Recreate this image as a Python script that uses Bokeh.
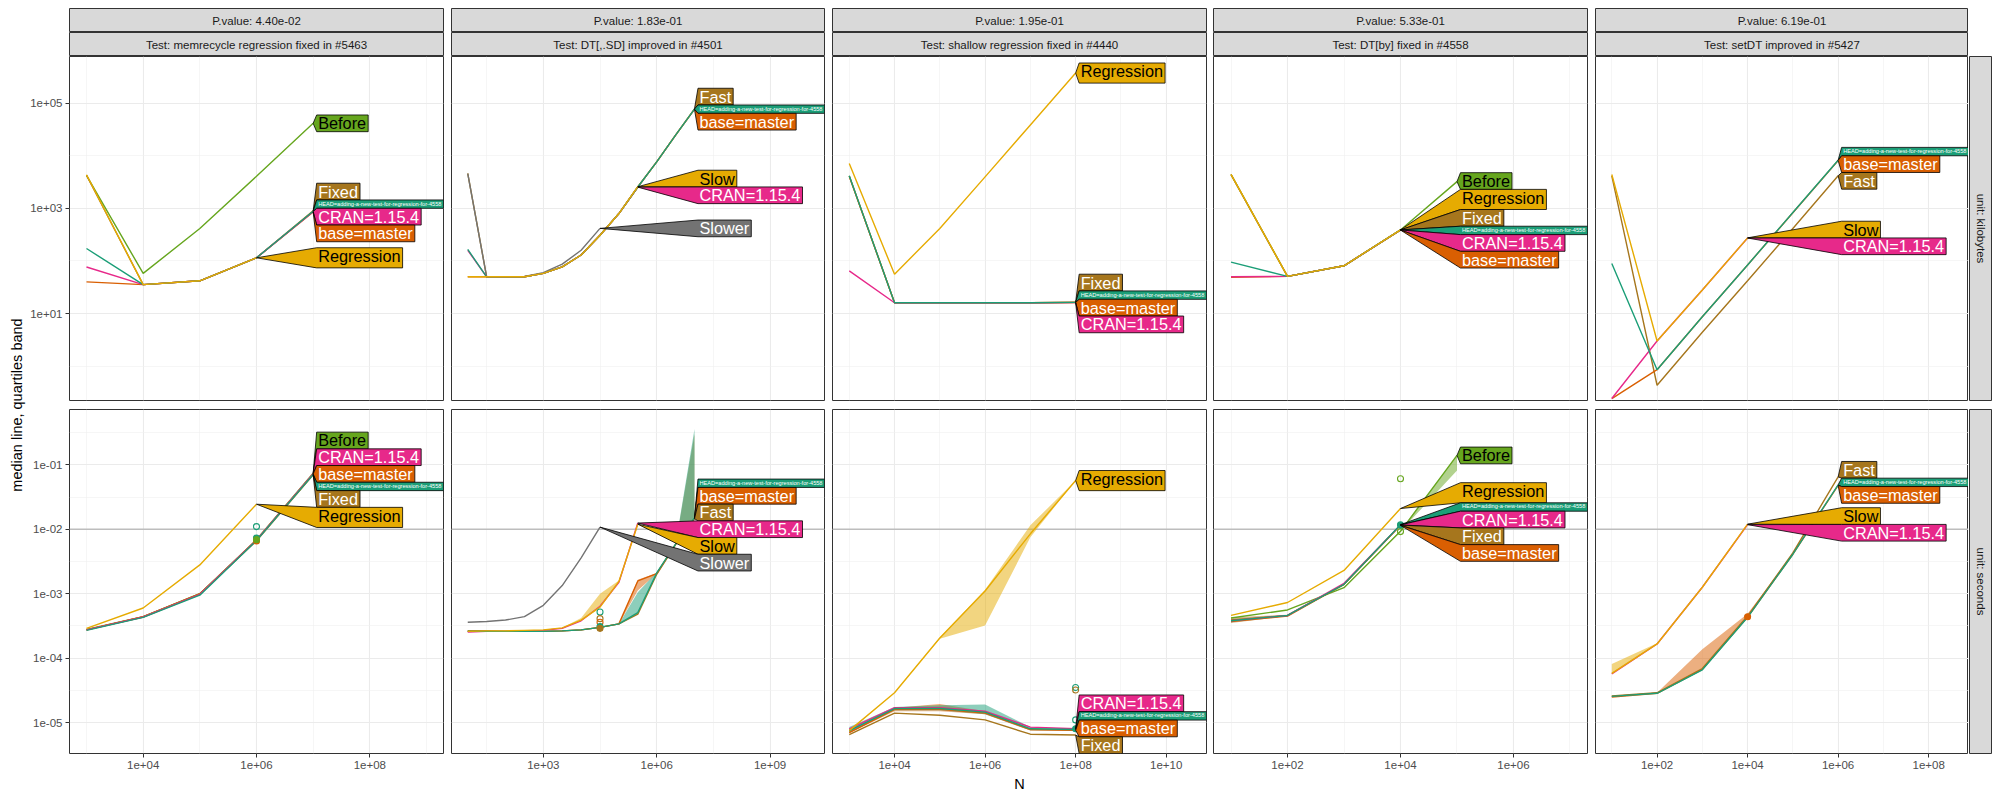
import math
from bokeh.plotting import figure
from bokeh.layouts import row, column, Spacer
from bokeh.models import Range1d, FixedTicker, CustomJSTickFormatter, Span
from bokeh.embed import file_html
from bokeh.resources import INLINE
from bokeh.core.properties import value

FONT = "Liberation Sans"

# ---------------- data ----------------
strip_pvalue = ["P.value: 4.40e-02", "P.value: 1.83e-01", "P.value: 1.95e-01",
                "P.value: 5.33e-01", "P.value: 6.19e-01"]
strip_test = ["Test: memrecycle regression fixed in #5463", "Test: DT[,.SD] improved in #4501",
              "Test: shallow regression fixed in #4440", "Test: DT[by] fixed in #4558",
              "Test: setDT improved in #5427"]
unit_labels = ["unit: kilobytes", "unit: seconds"]
y_title = "median line, quartiles band"
x_title = "N"

# panel 1 : memrecycle
p1_N = [1e3, 1e4, 1e5, 1e6, 1e7]
p1_kilobytes = {
    "Before": [4270, 58, 416, 4100, 41900],
    "Regression": [4400, 35.5, 42, 115],
    "Fixed": [4300, 35.5, 42, 115, 900],
    "HEAD": [173, 35.5, 42, 115, 885],
    "CRAN": [77, 35.5, 42, 115, 870],
    "base": [40, 35.5, 42, 115, 860],
}
p1_seconds = {
    "Before": [2.8e-4, 4.4e-4, 1.0e-3, 6.9e-3, 0.074],
    "Regression": [2.9e-4, 6.0e-4, 2.8e-3, 0.0245],
    "Fixed": [2.75e-4, 4.35e-4, 1.0e-3, 6.6e-3, 0.070],
    "HEAD": [2.7e-4, 4.3e-4, 0.95e-3, 6.7e-3, 0.071],
    "CRAN": [2.75e-4, 4.35e-4, 0.98e-3, 6.8e-3, 0.073],
    "base": [2.75e-4, 4.4e-4, 0.98e-3, 6.8e-3, 0.072],
}
p1_bands = {}
p1_points = [(1e6, 0.011, "HEAD", False), (1e6, 7.3e-3, "HEAD", True),
             (1e6, 6.6e-3, "base", True), (1e6, 6.9e-3, "Before", True)]

# panel 2 : DT[,.SD]
p2_N = [10, 31.6, 100, 316, 1000, 3162, 1e4, 31623, 1e5, 316228, 1e6, 3162278, 1e7]
p2_kilobytes = {
    "Fast": [4650, 50, 50, 50, 58, 77, 130, 310, 800, 2570, 7700, 25000, 79000],
    "HEAD": [166, 50, 50, 50, 58, 77, 130, 310, 800, 2570, 7700, 25000, 78000],
    "base": [50, 50, 50, 50, 58, 77, 130, 310, 800, 2570, 7700, 25000, 77000],
    "Slow": [50, 50, 50, 50, 58, 77, 130, 310, 800, 2600],
    "CRAN": [160, 50, 50, 50, 58, 77, 130, 310, 800, 2550],
    "Slower": [4600, 50, 50, 51, 60, 87, 160, 418],
}
p2_seconds = {
    "Slower": [3.6e-4, 3.7e-4, 3.9e-4, 4.4e-4, 6.6e-4, 1.34e-3, 3.6e-3, 0.0108],
    "CRAN": [2.55e-4, 2.6e-4, 2.6e-4, 2.65e-4, 2.7e-4, 2.9e-4, 3.8e-4, 6.4e-4, 1.5e-3, 0.0125],
    "Slow": [2.6e-4, 2.65e-4, 2.65e-4, 2.7e-4, 2.75e-4, 2.95e-4, 3.9e-4, 6.2e-4, 1.55e-3, 0.0120],
    "HEAD": [2.6e-4, 2.6e-4, 2.6e-4, 2.6e-4, 2.6e-4, 2.65e-4, 2.75e-4, 3.0e-4, 3.4e-4, 5.1e-4, 2.1e-3, 5.9e-3, 0.0150],
    "base": [2.6e-4, 2.6e-4, 2.6e-4, 2.6e-4, 2.6e-4, 2.65e-4, 2.75e-4, 3.0e-4, 3.4e-4, 1.58e-3, 2.05e-3, 5.9e-3, 0.0148],
    "Fast": [2.65e-4, 2.65e-4, 2.6e-4, 2.6e-4, 2.6e-4, 2.65e-4, 2.75e-4, 3.0e-4, 3.4e-4, 4.8e-4, 2.0e-3, 5.8e-3, 0.0146],
}
p2_bands = {
    "Slow": ([2.6e-4, 2.65e-4, 2.65e-4, 2.7e-4, 2.75e-4, 2.95e-4, 3.9e-4, 6.2e-4, 1.55e-3, 0.0120],
             [2.6e-4, 2.65e-4, 2.65e-4, 2.7e-4, 2.75e-4, 2.95e-4, 4.2e-4, 1.0e-3, 1.6e-3, 0.0120]),
    "HEAD": ([2.6e-4, 2.6e-4, 2.6e-4, 2.6e-4, 2.6e-4, 2.65e-4, 2.75e-4, 3.0e-4, 3.4e-4, 5.1e-4, 2.0e-3, 5.8e-3, 0.0145],
             [2.7e-4, 2.7e-4, 2.6e-4, 2.6e-4, 2.6e-4, 2.65e-4, 2.75e-4, 3.0e-4, 3.4e-4, 1.05e-3, 2.15e-3, 5.9e-3, 0.36]),
    "Fast": ([2.6e-4, 2.6e-4, 2.6e-4, 2.6e-4, 2.6e-4, 2.65e-4, 2.75e-4, 3.0e-4, 3.4e-4, 4.8e-4, 2.0e-3, 5.8e-3, 0.0146],
             [2.65e-4, 2.65e-4, 2.6e-4, 2.6e-4, 2.6e-4, 2.65e-4, 2.75e-4, 3.0e-4, 3.4e-4, 5.0e-4, 2.0e-3, 5.8e-3, 0.30]),
    "base": ([2.6e-4, 2.6e-4, 2.6e-4, 2.6e-4, 2.6e-4, 2.65e-4, 2.75e-4, 3.0e-4, 3.4e-4, 1.12e-3, 2.05e-3, 5.9e-3, 0.0148],
             [2.6e-4, 2.6e-4, 2.6e-4, 2.6e-4, 2.6e-4, 2.65e-4, 2.75e-4, 3.0e-4, 3.4e-4, 1.65e-3, 2.1e-3, 5.9e-3, 0.0148]),
}
p2_points = [(31623, 5.2e-4, "HEAD", False), (31623, 4.1e-4, "Fast", False),
             (31623, 3.6e-4, "base", False), (31623, 3.1e-4, "HEAD", True),
             (31623, 2.9e-4, "Fast", True)]

# panel 3 : shallow
p3_N = [1e3, 1e4, 1e5, 1e6, 1e7, 1e8]
p3_kilobytes = {
    "Regression": [7200, 56, 417, 4000, 39000, 380000],
    "Fixed": [4150, 16, 16, 16, 16, 16.4],
    "HEAD": [4200, 16, 16, 16, 16, 16.3],
    "base": [4100, 16, 16, 16, 16, 16.2],
    "CRAN": [65, 16, 16, 16, 16, 16.1],
}
p3_seconds = {
    "Regression": [7.5e-6, 2.9e-5, 2.05e-4, 1.1e-3, 8.5e-3, 0.057],
    "CRAN": [8.0e-6, 1.7e-5, 1.7e-5, 1.5e-5, 8.5e-6, 8.0e-6],
    "HEAD": [7.5e-6, 1.65e-5, 1.65e-5, 1.45e-5, 8.0e-6, 7.8e-6],
    "base": [7.0e-6, 1.6e-5, 1.6e-5, 1.4e-5, 7.8e-6, 7.6e-6],
    "Fixed": [6.5e-6, 1.4e-5, 1.3e-5, 1.1e-5, 6.6e-6, 6.4e-6],
}
p3_bands = {
    "Regression": ([7.5e-6, 2.9e-5, 2.0e-4, 3.2e-4, 7.5e-3, 0.057],
                   [7.5e-6, 2.9e-5, 2.1e-4, 1.15e-3, 0.0115, 0.057]),
    "HEAD": ([7.0e-6, 1.55e-5, 1.55e-5, 1.35e-5, 7.6e-6, 7.5e-6],
             [8.5e-6, 1.75e-5, 1.85e-5, 1.9e-5, 8.5e-6, 8.0e-6]),
    "base": ([6.8e-6, 1.5e-5, 1.5e-5, 1.35e-5, 7.5e-6, 7.4e-6],
             [7.5e-6, 1.7e-5, 1.95e-5, 1.5e-5, 8.0e-6, 7.8e-6]),
}
p3_points = [(1e8, 3.5e-5, "HEAD", False), (1e8, 3.2e-5, "Fixed", False),
             (1e8, 1.1e-5, "HEAD", False), (1e8, 8.0e-6, "HEAD", True)]

# panel 4 : DT[by]
p4_N = [10, 100, 1000, 1e4, 1e5]
p4_kilobytes = {
    "Before": [4450, 51, 81, 390, 3250],
    "Regression": [4450, 51, 81, 392],
    "Fixed": [4400, 51, 81, 391],
    "HEAD": [95, 51, 81, 390.5],
    "CRAN": [50, 51, 81, 389],
    "base": [49, 51, 81, 388],
}
p4_seconds = {
    "Before": [4.2e-4, 5.6e-4, 1.24e-3, 9.3e-3, 0.14],
    "Regression": [4.6e-4, 7.3e-4, 2.3e-3, 0.021],
    "HEAD": [3.8e-4, 4.6e-4, 1.4e-3, 0.0118],
    "CRAN": [3.8e-4, 4.6e-4, 1.45e-3, 0.0117],
    "Fixed": [3.9e-4, 4.6e-4, 1.4e-3, 0.0116],
    "base": [3.7e-4, 4.5e-4, 1.4e-3, 0.0115],
}
p4_bands = {
    "Before": ([4.2e-4, 5.6e-4, 1.24e-3, 9.3e-3, 0.082], [4.2e-4, 5.6e-4, 1.24e-3, 9.6e-3, 0.14]),
    "Fixed": ([3.5e-4, 4.5e-4, 1.4e-3, 0.0116], [4.3e-4, 4.7e-4, 1.4e-3, 0.0116]),
}
p4_points = [(1e4, 0.061, "Before", False), (1e4, 9.2e-3, "Before", False),
             (1e4, 0.0117, "HEAD", True)]

# panel 5 : setDT
p5_N = [10, 100, 1000, 1e4, 1e5, 1e6]
p5_kilobytes = {
    "Slow": [4450, 3.0, 28, 276],
    "CRAN": [0.24, 3.0, 28, 274],
    "Fast": [4200, 0.43, 4.4, 42, 415, 4200],
    "HEAD": [90, 0.85, 8.7, 84, 840, 8300],
    "base": [0.24, 0.85, 8.7, 84, 830, 8200],
}
p5_seconds = {
    "Slow": [5.8e-5, 1.66e-4, 1.26e-3, 0.0120],
    "CRAN": [5.7e-5, 1.66e-4, 1.26e-3, 0.0118],
    "Fast": [2.6e-5, 2.9e-5, 6.9e-5, 4.5e-4, 4.3e-3, 0.065],
    "HEAD": [2.55e-5, 2.85e-5, 6.6e-5, 4.3e-4, 4.1e-3, 0.049],
    "base": [2.5e-5, 2.85e-5, 6.7e-5, 4.35e-4, 4.1e-3, 0.048],
}
p5_bands = {
    "Slow": ([5.8e-5, 1.66e-4, 1.26e-3, 0.0120], [8.1e-5, 1.7e-4, 1.26e-3, 0.0120]),
    "base": ([2.5e-5, 2.85e-5, 6.7e-5, 4.35e-4, 4.1e-3, 0.048],
             [2.6e-5, 2.9e-5, 1.38e-4, 4.9e-4, 4.1e-3, 0.048]),
}
p5_points = [(1e4, 4.4e-4, "base", True)]

seconds_reference = 0.01

version_colors = {"Before": "#66A61E", "Regression": "#E6AB02", "Slow": "#E6AB02",
                  "Fixed": "#A6761D", "Fast": "#A6761D", "HEAD": "#1B9E77",
                  "base": "#D95F02", "CRAN": "#E7298A", "Slower": "#737373"}
version_labels = {"Before": "Before", "Regression": "Regression", "Fixed": "Fixed",
                  "HEAD": "HEAD=adding-a-new-test-for-regression-for-4558",
                  "CRAN": "CRAN=1.15.4", "base": "base=master", "Slow": "Slow",
                  "Slower": "Slower", "Fast": "Fast"}
dark_text = {"Before", "Regression", "Slow"}
draw_order = ["Before", "Fixed", "Fast", "base", "CRAN", "HEAD", "Slower", "Regression", "Slow"]

panels = [
    dict(N=p1_N, rows=[p1_kilobytes, p1_seconds], bands=p1_bands, pts=p1_points),
    dict(N=p2_N, rows=[p2_kilobytes, p2_seconds], bands=p2_bands, pts=p2_points),
    dict(N=p3_N, rows=[p3_kilobytes, p3_seconds], bands=p3_bands, pts=p3_points),
    dict(N=p4_N, rows=[p4_kilobytes, p4_seconds], bands=p4_bands, pts=p4_points),
    dict(N=p5_N, rows=[p5_kilobytes, p5_seconds], bands=p5_bands, pts=p5_points),
]

# ---------------- layout / style ----------------
x_log_ranges = [(2.70, 9.30), (0.57, 10.44), (2.63, 10.89), (0.69, 7.31), (0.64, 8.88)]
y_log_ranges = [(-0.657, 5.895), (-5.48, -0.141)]
x_major = [[1e4, 1e6, 1e8], [1e3, 1e6, 1e9], [1e4, 1e6, 1e8, 1e10], [1e2, 1e4, 1e6], [1e2, 1e4, 1e6, 1e8]]
x_minor = [[1e3, 1e5, 1e7, 1e9], [10 ** 1.5, 10 ** 4.5, 10 ** 7.5], [1e3, 1e5, 1e7, 1e9],
           [1e1, 1e3, 1e5, 1e7], [1e1, 1e3, 1e5, 1e7]]
y_major = [[1e1, 1e3, 1e5], [1e-5, 1e-4, 1e-3, 1e-2, 1e-1]]
y_minor = [[1e0, 1e2, 1e4], [10 ** -4.5, 10 ** -3.5, 10 ** -2.5, 10 ** -1.5, 10 ** -0.5]]

YLAB_W = 26
frame_w = [374, 373, 374, 374, 373]
frame_h = 344
lb = [69 - YLAB_W, 4, 4, 3, 4]
rb = [4, 4, 4, 4, 0]

AFM = {'A': 667, 'B': 667, 'C': 722, 'D': 722, 'E': 667, 'F': 611, 'H': 722, 'N': 722,
       'R': 722, 'S': 667, 'a': 556, 'b': 556, 'c': 500, 'd': 556, 'e': 556, 'f': 278,
       'g': 556, 'i': 222, 'l': 222, 'm': 833, 'n': 556, 'o': 556, 'r': 333, 's': 500,
       't': 278, 'w': 722, 'x': 500, '.': 278, '=': 584, '-': 333, ' ': 278}


def text_em(s):
    return sum(AFM.get(c, 556) for c in s) / 1000.0


fmt_code = """
const e = Math.round(Math.log10(tick));
const a = Math.abs(e);
return "1e" + (e < 0 ? "-" : "+") + (a < 10 ? "0" + a : String(a));
"""


def place_cluster(c, H):
    cum = 0.0
    offs = []
    for e in c:
        offs.append(cum + e["bh"] / 2.0)
        cum += e["bh"]
    top = sum(e["t"] - o for e, o in zip(c, offs)) / len(c)
    top = max(0.0, min(H - cum, top))
    cum = 0.0
    for e in c:
        e["bt"] = top + cum
        cum += e["bh"]
        e["bb"] = e["bt"] + e["bh"]


def stack_labels(entries, H):
    entries.sort(key=lambda e: e["t"])
    clusters = []
    for e in entries:
        clusters.append([e])
        while True:
            place_cluster(clusters[-1], H)
            if len(clusters) > 1:
                prev = clusters[-2]
                if prev[-1]["bb"] > clusters[-1][0]["bt"] + 1e-9:
                    clusters[-2] = prev + clusters[-1]
                    clusters.pop()
                    continue
            break


def make_panel(ci, ri):
    pan = panels[ci]
    N = pan["N"]
    data = pan["rows"][ri]
    xlo, xhi = x_log_ranges[ci]
    ylo, yhi = y_log_ranges[ri]
    W = frame_w[ci]
    H = frame_h
    if ri == 0:
        mt, mb = 0, 4
    else:
        mt, mb = 5, 47
    p = figure(width=lb[ci] + W + rb[ci], height=mt + H + mb,
               x_axis_type="log", y_axis_type="log",
               x_range=Range1d(10 ** xlo, 10 ** xhi), y_range=Range1d(10 ** ylo, 10 ** yhi),
               x_axis_location=("below" if ri == 1 else None),
               y_axis_location=("left" if ci == 0 else None),
               toolbar_location=None, output_backend="svg",
               min_border=0, min_border_left=lb[ci], min_border_right=rb[ci],
               min_border_top=mt, min_border_bottom=mb)
    p.background_fill_color = "white"
    p.border_fill_color = "white"
    p.outline_line_color = "#333333"
    p.outline_line_width = 1
    xt = FixedTicker(ticks=x_major[ci], minor_ticks=x_minor[ci])
    yt = FixedTicker(ticks=y_major[ri], minor_ticks=y_minor[ri])
    for g, t in ((p.xgrid, xt), (p.ygrid, yt)):
        g.ticker = t
        g.grid_line_color = "#EBEBEB"
        g.grid_line_width = 1.1
        g.minor_grid_line_color = "#F0F0F0"
        g.minor_grid_line_width = 0.6
    for ax, t in ((p.xaxis, xt), (p.yaxis, yt)):
        if len(ax) == 0:
            continue
        ax.ticker = t
        ax.formatter = CustomJSTickFormatter(code=fmt_code)
        ax.axis_line_color = None
        ax.major_tick_line_color = "#333333"
        ax.major_tick_out = 4
        ax.major_tick_in = 0
        ax.minor_tick_line_color = None
        ax.major_label_text_color = "#4D4D4D"
        ax.major_label_text_font_size = "11.5px"
        ax.major_label_text_font = FONT
        ax.major_label_standoff = 3
    if ri == 1 and ci == 2:
        p.xaxis.axis_label = x_title
        p.xaxis.axis_label_text_font_size = "14.5px"
        p.xaxis.axis_label_text_font_style = "normal"
        p.xaxis.axis_label_text_font = FONT
        p.xaxis.axis_label_text_color = "black"
        p.xaxis.axis_label_standoff = 4

    if ri == 1:
        sp = Span(location=seconds_reference, dimension="width", line_color="#BDBDBD",
                  line_width=1.5, level="underlay")
        p.add_layout(sp)

    # bands
    if ri == 1:
        for ver in draw_order:
            if ver in pan["bands"]:
                q25, q75 = pan["bands"][ver]
                p.varea(x=N[:len(q25)], y1=q25, y2=q75, fill_color=version_colors[ver],
                        fill_alpha=0.5)
    # lines
    for ver in draw_order:
        if ver in data:
            vals = data[ver]
            p.line(N[:len(vals)], vals, line_color=version_colors[ver], line_width=1.4)
    # points
    if ri == 1:
        for (nx, vy, ver, filled) in pan["pts"]:
            p.scatter([nx], [vy], marker="circle", size=6, line_color=version_colors[ver],
                      line_width=1.1, fill_color=(version_colors[ver] if filled else None))

    # direct labels
    def px(lx):
        return (lx - xlo) / (xhi - xlo) * W

    def py(ly):
        return (yhi - ly) / (yhi - ylo) * H

    def X(v):
        return 10 ** (xlo + v / W * (xhi - xlo))

    def Y(v):
        return 10 ** (yhi - v / H * (yhi - ylo))

    xmax_log = math.log10(max(N[len(v) - 1] for v in data.values()))
    bl = px(xmax_log) + 3.5
    entries = []
    for ver, vals in data.items():
        txt = version_labels[ver]
        em = text_em(txt)
        if ver == "HEAD":
            fs = (W - bl - 3.5) / em
        else:
            fs = 16.3
        desc = 0.21 if any(c in "gjpqy" for c in txt) else 0.0
        pad = 2.2 + 0.17 * fs
        bh = (0.72 + desc) * fs + pad
        bw = em * fs + 3.5
        lastN = N[len(vals) - 1]
        entries.append(dict(ver=ver, txt=txt, fs=fs, desc=desc, pad=pad, bh=bh, bw=bw,
                            tipx=px(math.log10(lastN)), t=py(math.log10(vals[-1]))))
    stack_labels(entries, H)
    for e in entries:
        col = version_colors[e["ver"]]
        xs = [X(e["tipx"]), X(bl), X(bl + e["bw"]), X(bl + e["bw"]), X(bl)]
        ys = [Y(e["t"]), Y(e["bt"]), Y(e["bt"]), Y(e["bb"]), Y(e["bb"])]
        p.patch(xs, ys, fill_color=col, line_color="black", line_width=0.8)
        cap_center = e["bt"] + e["pad"] / 2.0 + 0.36 * e["fs"]
        p.text(x=[X(bl + 1.5)], y=[Y(cap_center)],
               text=[e["txt"]], text_align="left", text_baseline="middle",
               text_font_size="%.2fpx" % e["fs"], text_font=value(FONT),
               text_color=("black" if e["ver"] in dark_text else "white"))
    return p


def make_strip(ci, text, top_border):
    p = figure(width=lb[ci] + frame_w[ci] + rb[ci], height=24 + top_border,
               x_range=Range1d(0, 1), y_range=Range1d(0, 1),
               x_axis_location=None, y_axis_location=None,
               toolbar_location=None, output_backend="svg",
               min_border=0, min_border_left=lb[ci], min_border_right=rb[ci],
               min_border_top=top_border, min_border_bottom=0)
    p.grid.visible = False
    p.background_fill_color = "#D9D9D9"
    p.border_fill_color = "white"
    p.outline_line_color = "#333333"
    p.outline_line_width = 1
    p.text(x=[0.5], y=[0.5], text=[text], text_align="center", text_baseline="middle",
           text_font_size="11.5px", text_color="#1A1A1A", text_font=value(FONT))
    return p


def make_rstrip(text, ri):
    if ri == 0:
        mt, mb = 0, 4
    else:
        mt, mb = 5, 47
    p = figure(width=24, height=mt + frame_h + mb, x_range=Range1d(0, 1), y_range=Range1d(0, 1),
               x_axis_location=None, y_axis_location=None,
               toolbar_location=None, output_backend="svg",
               min_border=0, min_border_left=1, min_border_right=0,
               min_border_top=mt, min_border_bottom=mb)
    p.grid.visible = False
    p.background_fill_color = "#D9D9D9"
    p.border_fill_color = "white"
    p.outline_line_color = "#333333"
    p.outline_line_width = 1
    p.text(x=[0.5], y=[0.5], text=[text], text_align="center", text_baseline="middle",
           angle=-math.pi / 2, text_font_size="11.5px", text_color="#1A1A1A",
           text_font=value(FONT))
    return p


ylab = figure(width=YLAB_W, height=800, x_range=Range1d(0, YLAB_W), y_range=Range1d(0, 800),
              x_axis_location=None, y_axis_location=None, toolbar_location=None,
              output_backend="svg", min_border=0)
ylab.grid.visible = False
ylab.outline_line_color = None
ylab.text(x=[16], y=[800 - 404.5], text=[y_title], angle=math.pi / 2, text_align="center",
          text_baseline="middle", text_font_size="14.5px", text_color="black",
          text_font=value(FONT))

cols = [ylab]
for ci in range(5):
    cols.append(column(make_strip(ci, strip_pvalue[ci], 8), make_strip(ci, strip_test[ci], 0),
                       make_panel(ci, 0), make_panel(ci, 1), spacing=0))
cols.append(column(Spacer(width=24, height=56), make_rstrip(unit_labels[0], 0),
                   make_rstrip(unit_labels[1], 1), spacing=0))
layout = row(*cols, spacing=0)

open("out.html", "w").write(file_html(layout, INLINE))
